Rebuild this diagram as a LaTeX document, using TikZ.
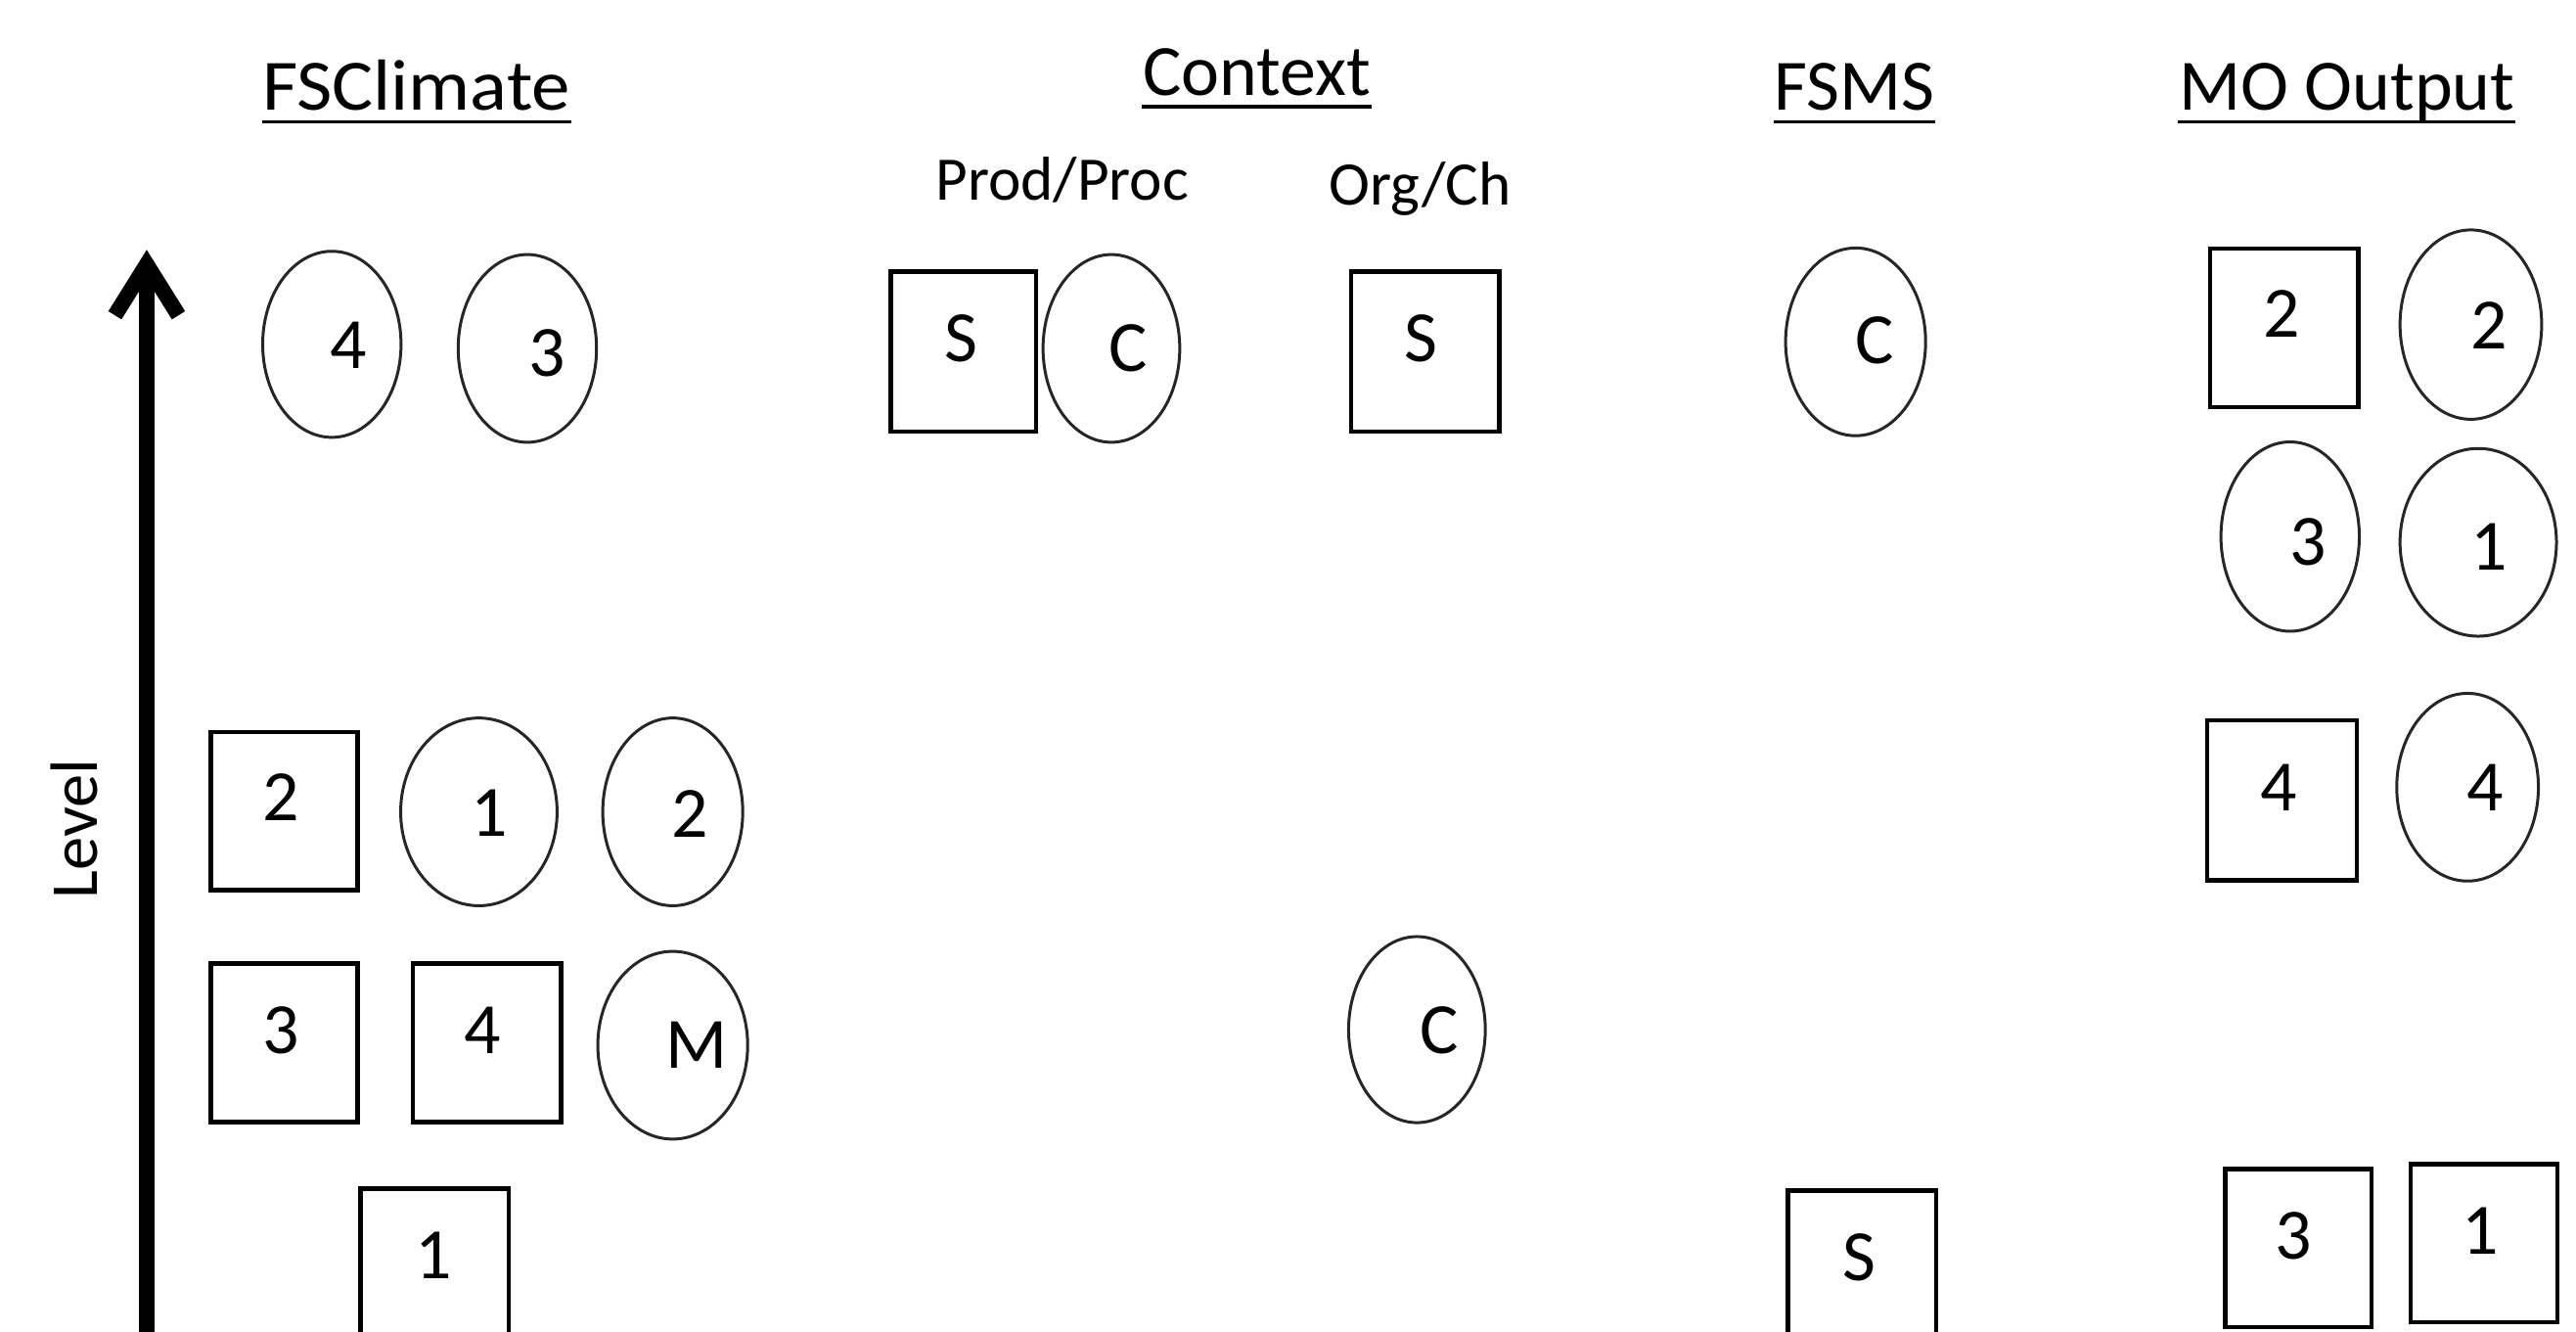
\documentclass[tikz,border=0pt]{standalone}
\usepackage{fontspec}
\setmainfont{Carlito}
\usetikzlibrary{arrows.meta,shapes.geometric}
\newdimen\ud \ud=0.16792mm
% ellipse: name, x1, y1, x2, y2, label, lx, ly
\newcommand\ovnode[8]{%
  \node[oval,minimum width={(#4-#2)*\ud-0.85pt},minimum height={(#5-#3)*\ud-0.85pt}] (#1) at ({(#2+#4)/2},{(#3+#5)/2}) {};
  \node[lbl] (#1t) at (#7,#8) {#6};}
% box: name, x1, y1, x2, y2, label, lx, ly
\newcommand\boxnode[8]{%
  \node[box,minimum width={(#4-#2)*\ud-1.3pt},minimum height={(#5-#3)*\ud-1.3pt}] (#1) at ({(#2+#4)/2},{(#3+#5)/2}) {};
  \node[lbl] (#1t) at (#7,#8) {#6};}
\begin{document}
\begin{tikzpicture}[x=0.16792mm,y=-0.16792mm,
  box/.style={draw=black,line width=1.3pt,rectangle,inner sep=0pt},
  oval/.style={draw=black!85,line width=0.85pt,ellipse,inner sep=0pt},
  lbl/.style={inner sep=0pt,font=\fontsize{21}{24}\selectfont},
  title/.style={inner sep=0pt,anchor=base,font=\fontsize{21}{24}\selectfont},
  subtitle/.style={inner sep=0pt,anchor=base,font=\fontsize{18}{21}\selectfont},
  uline/.style={line width=1.1pt}]
\useasboundingbox (0,0) rectangle (1568,810);
\clip (0,0) rectangle (1568,810);

% titles
\node[title] (tfsc) at (253.5,67) {\scalebox{1.07}[1]{FSClimate}};
\node[title] (tctx) at (765,58) {Context};
\node[title] (tfsms) at (1129,67) {FSMS};
\node[title] (tmo) at (1428.5,67) {MO Output};
\foreach \t in {tfsc,tctx,tfsms,tmo}{
  \draw[uline] ([yshift=-1.2mm]\t.base west) -- ([yshift=-1.2mm]\t.base east);}
\node[subtitle] (tpp) at (646.5,122) {Prod/Proc};
\node[subtitle] (toc) at (864.5,125) {Org/Ch};

% axis
\coordinate (abot) at (89.3,830);
\coordinate (atop) at (89.3,152);
\draw[line width=4.5pt,-{Straight Barb[length=5.2mm,width=6.5mm]}] (abot) -- (atop);
\node[rotate=90,inner sep=0pt,font=\fontsize{19.5}{22}\selectfont] (lev) at (45.5,504.5) {Level};

% ellipses
\ovnode{e1}{159}{152}{245}{267}{4}{212}{210}
\ovnode{e2}{278}{154}{364}{270}{3}{333}{215}
\ovnode{e3}{634}{154}{719}{270}{C}{687}{212}
\ovnode{e4}{1086}{150}{1173}{266}{C}{1141}{207}
\ovnode{e5}{1460}{139}{1548}{256}{2}{1515}{198}
\ovnode{e6}{1351}{268}{1437}{385}{3}{1405}{330}
\ovnode{e7}{1460}{272}{1557}{388}{1}{1515}{333}
\ovnode{e8}{243}{436}{340}{552}{1}{298}{495}
\ovnode{e9}{366}{436}{453}{552}{2}{420}{495}
\ovnode{e10}{363}{578}{456}{694}{M}{424}{636}
\ovnode{e11}{820}{569}{905}{684}{C}{876}{627}
\ovnode{e12}{1458}{421}{1546}{537}{4}{1513}{479}

% boxes
\boxnode{r1}{541}{164}{632}{264}{S}{585}{206}
\boxnode{r2}{821}{164}{914}{264}{S}{865}{206}
\boxnode{r3}{1344}{150}{1437}{249}{2}{1389}{191}
\boxnode{r4}{1342}{437}{1436}{537}{4}{1387}{479}
\boxnode{r5}{127}{444}{219}{543}{2}{171}{485}
\boxnode{r6}{127}{585}{219}{684}{3}{171}{627}
\boxnode{r7}{250}{585}{343}{684}{4}{294}{627}
\boxnode{r8}{218}{722}{311}{840}{1}{264}{764}
\boxnode{r9}{1087}{723}{1180}{840}{S}{1132}{765}
\boxnode{r10}{1353}{710}{1445}{809}{3}{1396}{752}
\boxnode{r11}{1466}{707}{1558}{806}{1}{1510}{749}
\end{tikzpicture}
\end{document}
